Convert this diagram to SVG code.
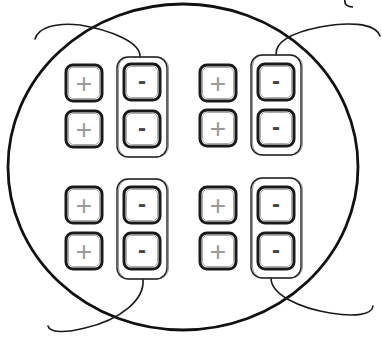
<svg xmlns="http://www.w3.org/2000/svg" width="382" height="339" viewBox="0 0 382 339">
<style>
.bo{fill:#fff;stroke:#1a1a1a;stroke-width:3}
.bi{fill:none;stroke:#aaa;stroke-width:1}
.ct{fill:none;stroke:#222;stroke-width:1.4}
.ct2{fill:none;stroke:#999;stroke-width:1}
.w{fill:none;stroke:#1a1a1a;stroke-width:1.6;stroke-linecap:round}
.pl{font-family:"Liberation Sans",Arial,sans-serif;font-size:28px;fill:#999;text-anchor:middle}
.mi{font-family:"Liberation Sans",Arial,sans-serif;font-size:24px;fill:#444;text-anchor:middle;font-weight:bold}
</style>
<defs>
<g id="pbox">
<rect class="bo" x="0" y="0" width="36" height="36" rx="7"/>
<rect class="bi" x="2.5" y="2.5" width="31" height="31" rx="5"/>
</g>
<g id="holder">
<rect class="ct2" x="1.5" y="0" width="50" height="100" rx="11"/>
<rect class="ct" x="0" y="0" width="50" height="100" rx="11"/>
</g>
</defs>
<ellipse id="cell" cx="183" cy="167" rx="175" ry="163" fill="none" stroke="#111" stroke-width="2.8"/>
<path d="M345,0 C344,4 347,7 353,7" fill="none" stroke="#111" stroke-width="1.6"/>
<g id="connectors">
<path class="w" d="M140,57 C141,42 110,30 80,25 C55,22 38,28 35,39"/>
<path class="w" d="M276,55 C275,40 295,32 320,27 C345,22 375,22 380,36"/>
<path class="w" d="M143,279 C145,300 120,320 85,328 C65,333 50,333 48,326"/>
<path class="w" d="M271,278 C271,295 300,308 330,313 C355,317 372,315 373,306"/>
</g>
<g id="group-tl">
<g id="holder-tl"><use href="#holder" x="117" y="57"/></g>
<g id="p-tl-1"><use href="#pbox" x="66" y="65"/><text class="pl" x="84" y="93">+</text></g>
<g id="p-tl-2"><use href="#pbox" x="66" y="111"/><text class="pl" x="84" y="139">+</text></g>
<g id="m-tl-1"><use href="#pbox" x="124" y="64"/><text class="mi" x="142" y="89">-</text></g>
<g id="m-tl-2"><use href="#pbox" x="124" y="111"/><text class="mi" x="142" y="136">-</text></g>
</g>
<g id="group-tr">
<g id="holder-tr"><use href="#holder" x="251" y="55"/></g>
<g id="p-tr-1"><use href="#pbox" x="200" y="65"/><text class="pl" x="218" y="93">+</text></g>
<g id="p-tr-2"><use href="#pbox" x="200" y="110"/><text class="pl" x="218" y="138">+</text></g>
<g id="m-tr-1"><use href="#pbox" x="258" y="64"/><text class="mi" x="276" y="89">-</text></g>
<g id="m-tr-2"><use href="#pbox" x="258" y="110"/><text class="mi" x="276" y="135">-</text></g>
</g>
<g id="group-bl">
<g id="holder-bl"><use href="#holder" x="117" y="179"/></g>
<g id="p-bl-1"><use href="#pbox" x="66" y="187"/><text class="pl" x="84" y="215">+</text></g>
<g id="p-bl-2"><use href="#pbox" x="66" y="233"/><text class="pl" x="84" y="261">+</text></g>
<g id="m-bl-1"><use href="#pbox" x="124" y="187"/><text class="mi" x="142" y="212">-</text></g>
<g id="m-bl-2"><use href="#pbox" x="124" y="233"/><text class="mi" x="142" y="258">-</text></g>
</g>
<g id="group-br">
<g id="holder-br"><use href="#holder" x="251" y="178"/></g>
<g id="p-br-1"><use href="#pbox" x="200" y="187"/><text class="pl" x="218" y="215">+</text></g>
<g id="p-br-2"><use href="#pbox" x="200" y="233"/><text class="pl" x="218" y="261">+</text></g>
<g id="m-br-1"><use href="#pbox" x="258" y="187"/><text class="mi" x="276" y="212">-</text></g>
<g id="m-br-2"><use href="#pbox" x="258" y="233"/><text class="mi" x="276" y="258">-</text></g>
</g>
</svg>
